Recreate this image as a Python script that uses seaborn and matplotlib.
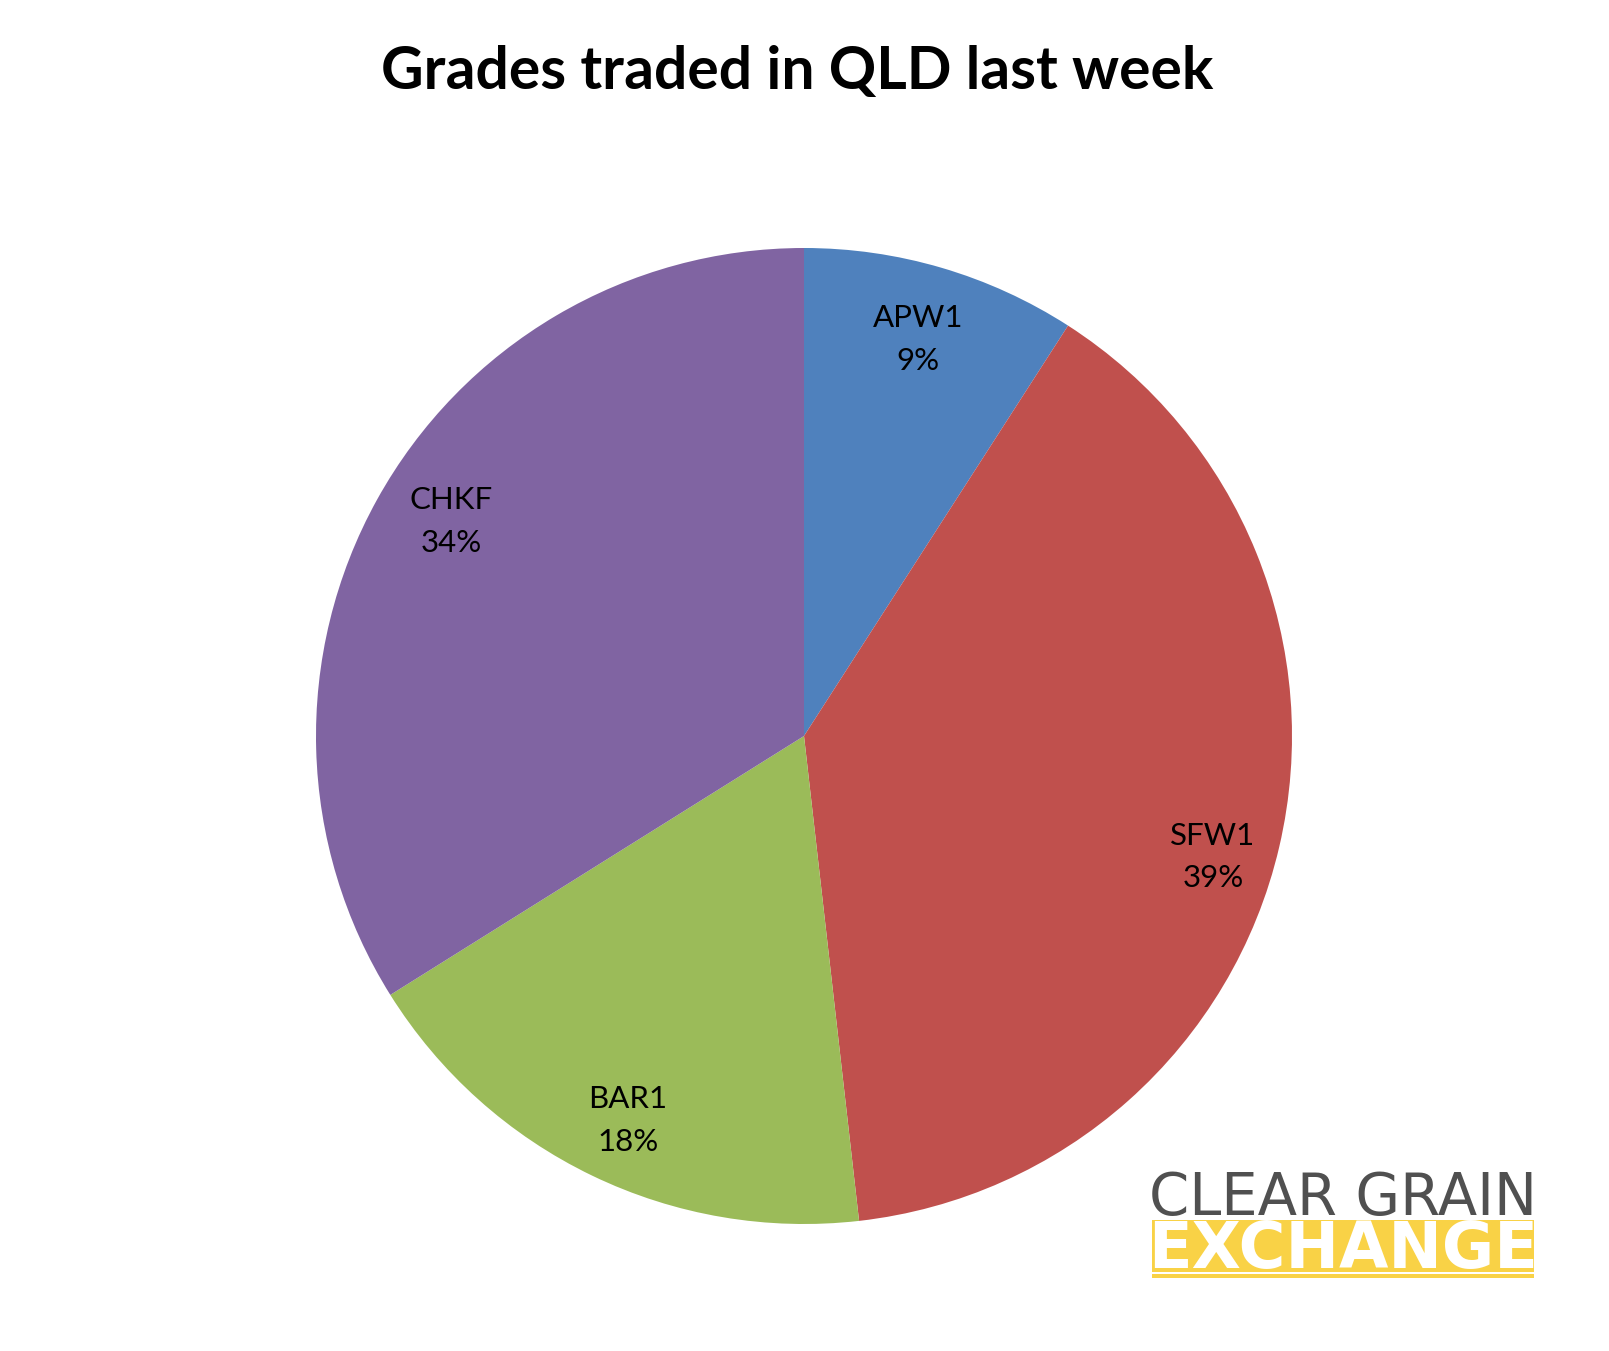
import matplotlib
matplotlib.use("Agg")
import matplotlib.pyplot as plt
import seaborn as sns
from matplotlib.patches import Rectangle

categories = ["APW1", "SFW1", "BAR1", "CHKF"]
shares = [9.1, 39.1, 17.9, 33.9]
colors = ["#4F81BD", "#C0504D", "#9BBB59", "#8064A2"]
title = "Grades traded in QLD last week"

sns.set_theme(style="white")
plt.rcParams['font.family'] = ['Lato', 'DejaVu Sans']

W, H = 1609, 1351
fig = plt.figure(figsize=(W / 100, H / 100), dpi=100)
fig.patch.set_facecolor("white")

cx, cy, r = 804, 736, 488
ax = fig.add_axes([(cx - r) / W, (H - cy - r) / H, 2 * r / W, 2 * r / H])
labels = [f"{c}\n{round(v):d}%" for c, v in zip(categories, shares)]
wedges, texts = ax.pie(shares, colors=sns.color_palette(colors), startangle=90,
                       counterclock=False, labels=labels, labeldistance=0.86,
                       wedgeprops=dict(linewidth=0),
                       textprops=dict(fontsize=22.5, color="black", ha="center",
                                      va="center", linespacing=1.65))
# Excel-style "best fit" label placement inside the slices
label_xy = [(0.233, 0.813), (0.838, -0.248), (-0.361, -0.788), (-0.723, 0.439)]
for t, (x, y) in zip(texts, label_xy):
    t.set_ha("center")
    t.set_position((x, y))
ax.set_xlim(-1, 1)
ax.set_ylim(-1, 1)
ax.set_aspect("equal")
ax.axis("off")

fig.text(797 / W, 1 - 72 / H, title, ha="center", va="center",
         fontsize=42.3, fontweight="bold", color="black")

# logo
lx0, lx1 = 1152, 1534
fig.text((lx0 + lx1) / 2 / W, 1 - 1198 / H, "CLEAR GRAIN", ha="center", va="center",
         fontsize=41.5, fontweight="normal", color="#505050", family="DejaVu Sans")
band = Rectangle((lx0 / W, 1 - 1278 / H), (lx1 - lx0) / W, (1278 - 1220) / H,
                 transform=fig.transFigure, facecolor="#F9D246", edgecolor="none")
fig.patches.append(band)
fig.text((lx0 + lx1) / 2 / W, 1 - 1250 / H, "EXCHANGE", ha="center", va="center",
         fontsize=46, fontweight="bold", color="white", family="DejaVu Sans")
stripe = Rectangle((lx0 / W, 1 - 1274 / H), (lx1 - lx0) / W, 2 / H,
                   transform=fig.transFigure, facecolor="white", edgecolor="none")
fig.patches.append(stripe)

fig.savefig("out.png", dpi=100, facecolor="white")
